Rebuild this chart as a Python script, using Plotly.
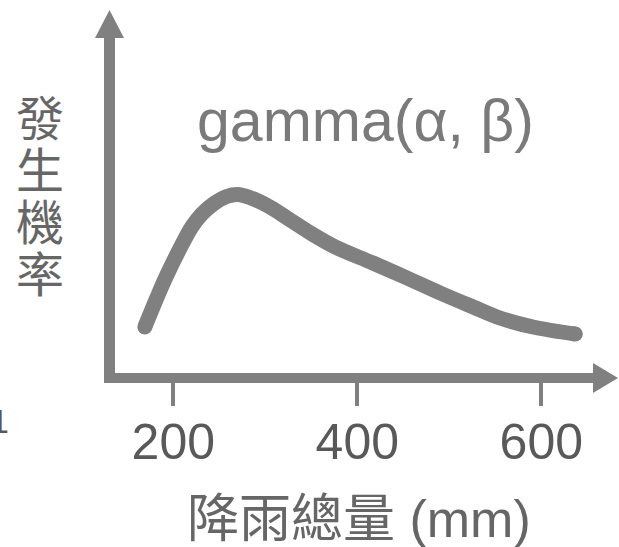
import plotly.graph_objects as go

# ---- data ----
rain_mm = [169, 182, 192, 208, 220, 231, 245, 258, 270, 283, 305, 327, 349, 376, 417, 454, 490, 526, 555, 591, 637]
prob = [0.92, 1.50, 1.92, 2.52, 2.92, 3.18, 3.40, 3.53, 3.57, 3.51, 3.32, 3.06, 2.80, 2.52, 2.20, 1.90, 1.60, 1.32, 1.10, 0.92, 0.78]
tick_vals = [200, 400, 600]
tick_text = ["200", "400", "600"]
curve_label = "gamma(α, β)"
x_title = "降雨總量 (mm)"
y_title_chars = ["發", "生", "機", "率"]
edge_fragment = "1"

# ---- layout geometry (pixels) ----
W, H = 619, 547
L, R, T, B = 115, 26, 38, 174
PW, PH = W - L - R, H - T - B

def px(xp):
    return (xp - L) / PW

def py(yp):
    return (H - B - yp) / PH

GRAY = "#808080"
FONT = "Liberation Sans, Arial, Noto Sans CJK TC, sans-serif"

fig = go.Figure()
fig.add_trace(go.Scatter(
    x=rain_mm, y=prob, mode="lines",
    line=dict(color=GRAY, width=15, shape="spline", smoothing=1.0),
    hoverinfo="skip", showlegend=False,
))
# round line caps
fig.add_trace(go.Scatter(
    x=[rain_mm[0], rain_mm[-1]], y=[prob[0], prob[-1]], mode="markers",
    marker=dict(color=GRAY, size=15, line=dict(width=0)),
    hoverinfo="skip", showlegend=False,
))

annotations = [
    dict(text=curve_label, x=px(365), y=py(121), xref="paper", yref="paper",
         showarrow=False, xanchor="center", yanchor="middle",
         font=dict(family=FONT, size=59, color="#7a7a7a")),
    dict(text=x_title, x=px(359), y=py(519), xref="paper", yref="paper",
         showarrow=False, xanchor="center", yanchor="middle",
         font=dict(family=FONT, size=52, color="#666666")),
    dict(text=edge_fragment, x=px(11), y=py(421), xref="paper", yref="paper",
         showarrow=False, xanchor="right", yanchor="middle",
         font=dict(family=FONT, size=34, color="#595959")),
]
for i, ch in enumerate(y_title_chars):
    annotations.append(dict(
        text=ch, x=px(40), y=py(119 + 52 * i), xref="paper", yref="paper",
        showarrow=False, xanchor="center", yanchor="middle",
        font=dict(family=FONT, size=48, color="#666666")))

def path(pts):
    return "M " + " L ".join(f"{px(a):.5f},{py(b):.5f}" for a, b in pts) + " Z"

shapes = [
    dict(type="path", xref="paper", yref="paper", layer="above",
         path=path([(109.5, 10), (95, 38), (124, 38)]),
         fillcolor=GRAY, line=dict(width=0)),
    dict(type="path", xref="paper", yref="paper", layer="above",
         path=path([(618, 378), (593, 363), (593, 393)]),
         fillcolor=GRAY, line=dict(width=0)),
]

fig.update_layout(
    width=W, height=H,
    margin=dict(l=L, r=R, t=T, b=B, pad=0),
    paper_bgcolor="white", plot_bgcolor="white",
    annotations=annotations, shapes=shapes,
    xaxis=dict(range=[136.6, 656.2], showgrid=False, zeroline=False,
               showline=True, linecolor=GRAY, linewidth=10,
               ticks="outside", ticklen=23, tickwidth=4, tickcolor=GRAY,
               tickvals=tick_vals, ticktext=tick_text, ticklabelstandoff=-7,
               tickfont=dict(family=FONT, size=50, color="#595959")),
    yaxis=dict(range=[0, 6.7], showgrid=False, zeroline=False,
               showline=True, linecolor=GRAY, linewidth=11,
               showticklabels=False, ticks=""),
)

fig.write_html(
    "out.html",
    config=dict(displayModeBar=False),
    post_script="document.body.style.margin='0';document.body.style.overflow='hidden';",
)
